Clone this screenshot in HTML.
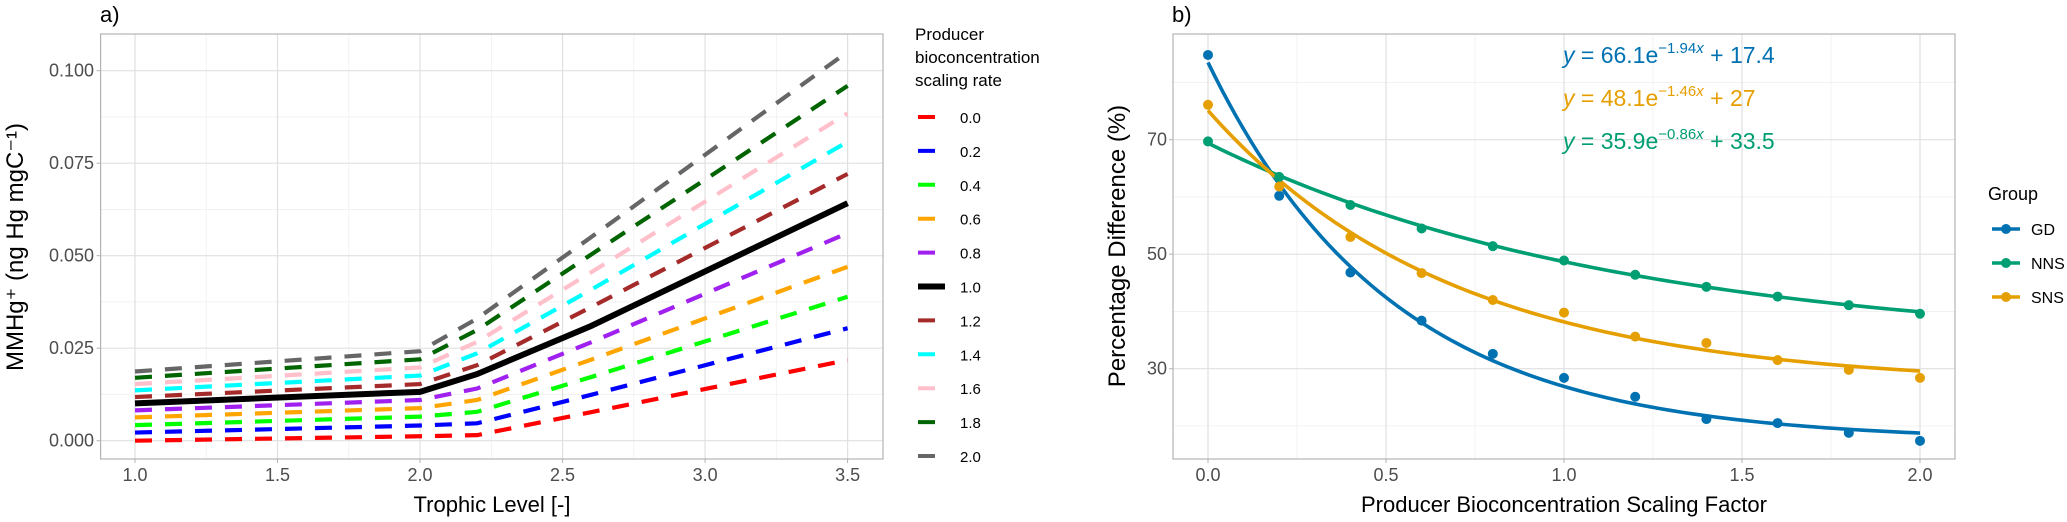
<!DOCTYPE html>
<html><head><meta charset="utf-8"><style>
body{margin:0;background:#fff;}
svg{display:block;font-family:"Liberation Sans",Arial,sans-serif;}
</style></head><body>
<svg id="c" width="2067" height="522" xmlns="http://www.w3.org/2000/svg"></svg>
<script>
// ---- Panel a data ----
const aX = [1.0, 2.0, 2.2, 2.6, 3.5];
const aRates = ["0.0","0.2","0.4","0.6","0.8","1.0","1.2","1.4","1.6","1.8","2.0"];
const aColors = ["#ff0000","#0000ff","#00ff00","#ffa500","#a020f0","#000000","#a52a2a","#00ffff","#ffc0cb","#006400","#666666"];
const aAt1 = [0.0, 0.0022, 0.0042, 0.0063, 0.0082, 0.0101, 0.0118, 0.0136, 0.0153, 0.0170, 0.0187];
const aAt2 = [0.0012, 0.0041, 0.0065, 0.0088, 0.0110, 0.0132, 0.0153, 0.0176, 0.0198, 0.0220, 0.0242];
const aAt22 = [0.0015, 0.0047, 0.0078, 0.0110, 0.0141, 0.0180, 0.0204, 0.0236, 0.0267, 0.0299, 0.0330];
const aAt26 = [0.0077, 0.0124, 0.0172, 0.0219, 0.0266, 0.0310, 0.0361, 0.0408, 0.0455, 0.0503, 0.0550];
const aAt35 = [0.0218, 0.0304, 0.0389, 0.0470, 0.0561, 0.0642, 0.0721, 0.0808, 0.0885, 0.0959, 0.1051];
const aXTicks = [1.0, 1.5, 2.0, 2.5, 3.0, 3.5];
const aYTicks = [0.000, 0.025, 0.050, 0.075, 0.100];
// ---- Panel b data ----
const bX = [0,0.2,0.4,0.6,0.8,1.0,1.2,1.4,1.6,1.8,2.0];
const bGroups = ["GD","NNS","SNS"];
const bColors = ["#0072B2","#009E73","#E69F00"];
const bGD = [84.8,60.2,46.8,38.4,32.6,28.4,25.1,21.2,20.5,18.8,17.4];
const bNNS = [69.7,63.5,58.6,54.5,51.4,48.9,46.4,44.3,42.6,41.1,39.6];
const bSNS = [76.1,61.8,53.0,46.7,42.0,39.8,35.6,34.5,31.5,29.8,28.4];
const bFitA = [66.1, 35.9, 48.1];
const bFitB = [-1.94, -0.86, -1.46];
const bFitC = [17.4, 33.5, 27];
const bXTicks = [0.0,0.5,1.0,1.5,2.0];
const bYTicks = [30,50,70];
const bYMinor = [20,40,60,80];

const svg = document.getElementById('c');
const NS = "http://www.w3.org/2000/svg";
function mk(tag, attrs, parent){const e=document.createElementNS(NS,tag);for(const k in attrs)e.setAttribute(k,attrs[k]);(parent||svg).appendChild(e);return e;}

// Panel a scales
const ax = v => 135 + (v-1.0)*285.04;
const ay = v => 440.7 - v*3700;
const A = {l:100.6,r:883,t:34,b:459};
for(let i=0;i<aXTicks.length-1;i++){const m=(aXTicks[i]+aXTicks[i+1])/2;const g=mk('line',{x1:ax(m),x2:ax(m),y1:A.t,y2:A.b,stroke:'#f0f0f0','stroke-width':0.8});
}
for(let i=0;i<aYTicks.length-1;i++){const m=(aYTicks[i]+aYTicks[i+1])/2;const g=mk('line',{x1:A.l,x2:A.r,y1:ay(m),y2:ay(m),stroke:'#f0f0f0','stroke-width':0.8});
}
aXTicks.forEach(t=>{const g=mk('line',{x1:ax(t),x2:ax(t),y1:A.t,y2:A.b,stroke:'#e0e0e0','stroke-width':1.2});

const tx=mk('text',{x:ax(t),y:481,'text-anchor':'middle','font-size':18,fill:'#4d4d4d'});tx.textContent=t.toFixed(1);

mk('line',{x1:ax(t),x2:ax(t),y1:A.b,y2:A.b+4,stroke:'#b3b3b3'});});
aYTicks.forEach(t=>{const g=mk('line',{x1:A.l,x2:A.r,y1:ay(t),y2:ay(t),stroke:'#e0e0e0','stroke-width':1.2});

const tx=mk('text',{x:94,y:ay(t)+6,'text-anchor':'end','font-size':18,fill:'#4d4d4d'});tx.textContent=t.toFixed(3);

mk('line',{x1:A.l-4,x2:A.l,y1:ay(t),y2:ay(t),stroke:'#b3b3b3'});});
aRates.forEach((r,i)=>{
  const vals=[aAt1[i],aAt2[i],aAt22[i],aAt26[i],aAt35[i]];
  const pts=aX.map((x,j)=>ax(x)+','+ay(vals[j])).join(' ');
  const solid = r==="1.0";
  const p=mk('polyline',{points:pts,fill:'none',stroke:aColors[i],'stroke-width':solid?6:4.2,'stroke-dasharray':solid?'none':'17 13'});
  
  
});
const fa=mk('rect',{x:A.l,y:A.t,width:A.r-A.l,height:A.b-A.t,fill:'none',stroke:'#b3b3b3','stroke-width':1.2});

let t;
t=mk('text',{x:100,y:22,'font-size':22,fill:'#000'});t.textContent='a)';

t=mk('text',{x:492,y:512,'text-anchor':'middle','font-size':22,fill:'#000'});t.textContent='Trophic Level [-]';

t=mk('text',{x:0,y:0,'text-anchor':'middle','font-size':24,fill:'#000',transform:'translate(23,247) rotate(-90)'});t.textContent='MMHg⁺ (ng Hg mgC⁻¹)';

['Producer','bioconcentration','scaling rate'].forEach((s,k)=>{const e=mk('text',{x:915,y:40+k*23,'font-size':17,fill:'#000'});e.textContent=s;
});
aRates.forEach((r,i)=>{const y=117+i*33.9;const solid=r==="1.0";
const l=mk('line',{x1:918,x2:solid?945:935,y1:y,y2:y,stroke:aColors[i],'stroke-width':solid?6:4});

const e=mk('text',{x:960,y:y+6,'font-size':15,fill:'#000'});e.textContent=r;
});

// Panel b
const bx = v => 1208 + v*356;
const by = v => 139.7 - (v-70)*5.725;
const B = {l:1173,r:1955,t:34,b:459};
[0.25,0.75,1.25,1.75].forEach(m=>{const g=mk('line',{x1:bx(m),x2:bx(m),y1:B.t,y2:B.b,stroke:'#f0f0f0','stroke-width':0.8});
});
bYMinor.forEach(m=>{const g=mk('line',{x1:B.l,x2:B.r,y1:by(m),y2:by(m),stroke:'#f0f0f0','stroke-width':0.8});
});
bXTicks.forEach(v=>{const g=mk('line',{x1:bx(v),x2:bx(v),y1:B.t,y2:B.b,stroke:'#e0e0e0','stroke-width':1.2});

mk('line',{x1:bx(v),x2:bx(v),y1:B.b,y2:B.b+4,stroke:'#b3b3b3'});
const e=mk('text',{x:bx(v),y:481,'text-anchor':'middle','font-size':18,fill:'#4d4d4d'});e.textContent=v.toFixed(1);
});
bYTicks.forEach(v=>{const g=mk('line',{x1:B.l,x2:B.r,y1:by(v),y2:by(v),stroke:'#e0e0e0','stroke-width':1.2});

mk('line',{x1:B.l-4,x2:B.l,y1:by(v),y2:by(v),stroke:'#b3b3b3'});
const e=mk('text',{x:1167,y:by(v)+6,'text-anchor':'end','font-size':18,fill:'#4d4d4d'});e.textContent=v;
});
const bData=[bGD,bNNS,bSNS];
bGroups.forEach((g,i)=>{
  let pts=[];for(let k=0;k<=100;k++){const x=k*0.02;pts.push(bx(x)+','+by(bFitA[i]*Math.exp(bFitB[i]*x)+bFitC[i]));}
  const p=mk('polyline',{points:pts.join(' '),fill:'none',stroke:bColors[i],'stroke-width':3.6});
  
  
});
bGroups.forEach((g,i)=>{
  bData[i].forEach((v,j)=>{const c=mk('circle',{cx:bx(bX[j]),cy:by(v),r:5,fill:bColors[i]});
  
  });
});
const fb=mk('rect',{x:B.l,y:B.t,width:B.r-B.l,height:B.b-B.t,fill:'none',stroke:'#b3b3b3','stroke-width':1.2});

const eqOrder=[0,2,1], eqY=[63,106,149];
eqOrder.forEach((gi,k)=>{
  const e=mk('text',{x:1563,y:eqY[k],'font-size':23,fill:bColors[gi]});
  e.innerHTML='<tspan font-style="italic">y</tspan> = '+bFitA[gi]+'e<tspan dy="-10" font-size="15">−'+Math.abs(bFitB[gi])+'<tspan font-style="italic">x</tspan></tspan><tspan dy="10"> + '+bFitC[gi]+'</tspan>';
  
  
});
t=mk('text',{x:1172,y:22,'font-size':22,fill:'#000'});t.textContent='b)';

t=mk('text',{x:1564,y:512,'text-anchor':'middle','font-size':22,fill:'#000'});t.textContent='Producer Bioconcentration Scaling Factor';

t=mk('text',{x:0,y:0,'text-anchor':'middle','font-size':24,fill:'#000',transform:'translate(1125,246) rotate(-90)'});t.textContent='Percentage Difference (%)';

t=mk('text',{x:1988,y:200,'font-size':18,fill:'#000'});t.textContent='Group';

bGroups.forEach((g,i)=>{const y=229+i*34;
const l=mk('line',{x1:1992,x2:2020,y1:y,y2:y,stroke:bColors[i],'stroke-width':3.6});

mk('circle',{cx:2006,cy:y,r:5,fill:bColors[i]});
const e=mk('text',{x:2031,y:y+6,'font-size':16,fill:'#000'});e.textContent=g;
});
</script>
</body></html>
